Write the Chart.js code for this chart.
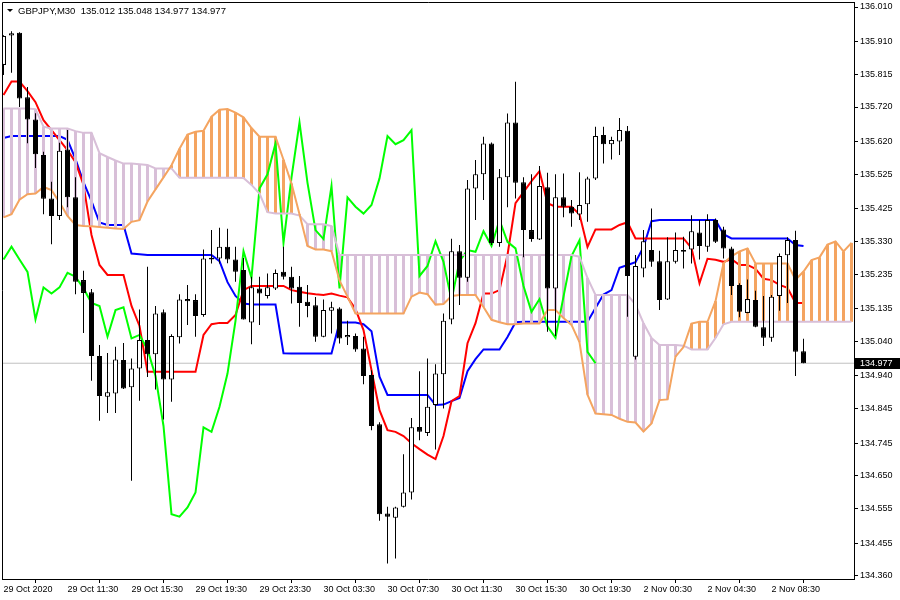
<!DOCTYPE html>
<html>
<head>
<meta charset="utf-8">
<script src="https://cdn.jsdelivr.net/npm/chart.js@4.4.0/dist/chart.umd.min.js"></script>
<style>
  html, body { margin: 0; padding: 0; background: #fff; }
  #wrap { width: 900px; height: 600px; }
</style>
</head>
<body>
<div id="wrap"><canvas id="chart" width="900" height="600"></canvas></div>
<script>
var symbol = "GBPJPY,M30";

// 30 min bars, 29 Oct 2020 07:30 .. 2 Nov 2020 10:30
var openP = [135.842,135.927,135.935,135.748,135.684,135.581,135.455,135.404,135.597,135.458,
  135.218,135.183,134.998,134.880,134.889,134.986,134.907,134.962,135.044,135.003,
  135.125,134.930,135.052,135.163,135.160,135.117,135.283,135.281,135.315,135.278,
  135.247,135.095,135.194,135.172,135.194,135.242,135.228,135.199,135.155,135.145,
  135.054,135.129,135.136,135.052,135.056,135.020,134.943,134.800,134.541,134.529,
  134.561,134.602,134.792,134.775,134.856,134.945,135.104,135.302,135.225,135.484,
  135.525,135.614,135.326,135.516,135.675,135.502,135.363,135.336,135.487,135.194,
  135.458,135.431,135.408,135.438,135.513,135.639,135.612,135.620,135.651,134.996,
  135.252,135.305,135.273,135.162,135.271,135.305,135.307,135.356,135.315,135.392,
  135.365,135.310,135.204,135.123,135.160,135.081,135.051,135.172,135.290,135.334,
  135.012];
var highP = [135.928,135.940,135.937,135.778,135.702,135.590,135.503,135.616,135.653,135.516,
  135.245,135.192,135.030,135.007,135.025,135.036,134.991,135.133,135.257,135.143,
  135.133,135.061,135.177,135.204,135.177,135.307,135.363,135.370,135.367,135.315,
  135.282,135.228,135.228,135.237,135.249,135.315,135.257,135.230,135.204,135.169,
  135.162,135.155,135.139,135.100,135.063,135.054,134.957,134.806,134.561,134.561,
  134.713,134.818,134.954,134.991,134.974,135.121,135.338,135.320,135.508,135.566,
  135.634,135.617,135.540,135.701,135.793,135.516,135.525,135.549,135.529,135.525,
  135.527,135.450,135.531,135.518,135.663,135.663,135.634,135.688,135.665,135.291,
  135.363,135.426,135.303,135.342,135.356,135.344,135.406,135.392,135.409,135.397,
  135.373,135.315,135.209,135.220,135.187,135.172,135.175,135.295,135.342,135.361,
  135.048];
var lowP = [135.813,135.819,135.720,135.615,135.543,135.409,135.322,135.392,135.429,135.177,
  135.065,134.926,134.810,134.833,134.833,134.902,134.636,134.868,134.937,134.901,
  134.814,134.865,135.034,135.088,135.054,135.112,135.266,135.266,135.267,135.213,
  135.104,135.032,135.088,135.165,135.189,135.220,135.150,135.083,135.110,135.039,
  135.052,135.063,135.034,135.030,135.010,134.916,134.783,134.520,134.396,134.411,
  134.559,134.582,134.754,134.766,134.727,134.846,135.090,135.146,135.213,135.392,
  135.450,135.320,135.315,135.429,135.455,135.284,135.329,135.334,135.068,135.056,
  135.400,135.373,135.392,135.387,135.508,135.556,135.568,135.581,135.112,134.988,
  135.226,135.257,135.131,135.160,135.266,135.252,135.266,135.278,135.300,135.326,
  135.281,135.175,135.110,135.122,135.081,135.027,135.039,135.129,135.152,134.940,
  134.977];
var closeP = [135.926,135.934,135.745,135.684,135.583,135.454,135.404,135.593,135.458,135.213,
  135.181,134.998,134.882,134.893,134.988,134.904,134.962,135.044,135.003,135.121,
  134.930,135.056,135.162,135.157,135.114,135.281,135.278,135.315,135.278,135.242,
  135.104,135.197,135.179,135.197,135.239,135.228,135.194,135.152,135.143,135.054,
  135.131,135.139,135.049,135.059,135.017,134.940,134.795,134.539,134.532,134.559,
  134.602,134.791,134.778,134.851,134.947,135.100,135.302,135.225,135.484,135.525,
  135.614,135.326,135.516,135.675,135.500,135.363,135.337,135.491,135.194,135.458,
  135.431,135.411,135.436,135.513,135.636,135.612,135.624,135.653,135.230,135.259,
  135.331,135.271,135.160,135.273,135.305,135.300,135.360,135.317,135.392,135.329,
  135.310,135.201,135.126,135.163,135.083,135.051,135.170,135.288,135.334,135.010,
  134.977];

// Ichimoku lines
var tenkan = [135.755,135.794,135.794,135.766,135.734,135.682,135.653,135.624,135.595,135.560,
  135.494,135.349,135.262,135.233,135.233,135.233,135.143,135.085,134.952,134.952,
  134.952,134.952,134.952,134.952,134.952,135.059,135.090,135.094,135.094,135.117,
  135.189,135.201,135.201,135.201,135.201,135.201,135.189,135.184,135.180,135.177,
  135.175,135.179,135.173,135.168,135.134,135.073,134.957,134.841,134.783,134.778,
  134.766,134.745,134.728,134.712,134.699,134.766,134.867,134.882,135.035,135.093,
  135.179,135.179,135.189,135.291,135.441,135.473,135.505,135.534,135.441,135.431,
  135.431,135.431,135.409,135.314,135.365,135.365,135.365,135.378,135.386,135.339,
  135.339,135.339,135.339,135.339,135.339,135.339,135.311,135.209,135.280,135.277,
  135.271,135.279,135.262,135.262,135.251,135.222,135.218,135.204,135.196,135.152,
  135.152];
var kijun = [135.630,135.636,135.636,135.636,135.636,135.636,135.636,135.636,135.625,135.569,
  135.502,135.447,135.385,135.378,135.378,135.378,135.295,135.293,135.291,135.291,
  135.291,135.291,135.291,135.291,135.291,135.291,135.291,135.273,135.212,135.172,
  135.150,135.147,135.147,135.147,135.147,135.006,135.005,135.005,135.005,135.005,
  135.005,135.005,135.095,135.095,135.095,135.090,135.070,134.938,134.885,134.885,
  134.885,134.885,134.885,134.885,134.856,134.857,134.867,134.876,134.954,134.989,
  135.017,135.017,135.017,135.053,135.096,135.097,135.097,135.097,135.097,135.097,
  135.097,135.097,135.097,135.097,135.137,135.176,135.189,135.254,135.262,135.270,
  135.314,135.389,135.392,135.392,135.392,135.392,135.392,135.392,135.392,135.392,
  135.351,135.339,135.339,135.339,135.339,135.339,135.339,135.339,135.339,135.320,
  135.317];
// senkou spans, already placed 26 bars ahead (index = bar slot on the chart)
var spanA = [135.400,135.409,135.451,135.467,135.469,135.488,135.479,135.444,135.404,135.378,
  135.375,135.374,135.372,135.370,135.368,135.366,135.387,135.392,135.446,135.481,
  135.516,135.551,135.599,135.640,135.648,135.651,135.692,135.712,135.714,135.704,
  135.690,135.659,135.634,135.634,135.634,135.567,135.498,135.409,135.317,135.307,
  135.307,135.302,135.217,135.170,135.121,135.121,135.121,135.121,135.121,135.121,
  135.121,135.170,135.182,135.177,135.147,135.149,135.172,135.175,135.175,135.175,
  135.140,135.103,135.096,135.090,135.090,135.092,135.092,135.092,135.131,135.131,
  135.108,135.088,135.038,134.886,134.831,134.829,134.827,134.816,134.807,134.805,
  134.779,134.802,134.870,134.872,134.996,135.024,135.092,135.097,135.097,135.157,
  135.267,135.287,135.301,135.310,135.266,135.266,135.266,135.266,135.266,135.219,
  135.243,135.276,135.284,135.321,135.330,135.301,135.326];
var spanB = [135.716,135.716,135.716,135.716,135.714,135.663,135.658,135.658,135.658,135.650,
  135.645,135.645,135.586,135.575,135.565,135.556,135.556,135.554,135.552,135.542,
  135.542,135.542,135.515,135.515,135.515,135.515,135.515,135.515,135.515,135.515,
  135.514,135.494,135.469,135.415,135.411,135.411,135.411,135.405,135.380,135.380,
  135.380,135.375,135.291,135.291,135.291,135.291,135.291,135.291,135.291,135.291,
  135.291,135.291,135.291,135.291,135.291,135.291,135.291,135.291,135.291,135.291,
  135.291,135.291,135.291,135.291,135.291,135.291,135.291,135.291,135.291,135.291,
  135.291,135.291,135.286,135.224,135.175,135.175,135.175,135.175,135.175,135.147,
  135.093,135.050,135.030,135.030,135.030,135.028,135.017,135.017,135.017,135.050,
  135.090,135.097,135.097,135.097,135.097,135.097,135.097,135.097,135.097,135.097,
  135.097,135.097,135.097,135.097,135.097,135.097,135.097];

var timeTicks = [0, 8, 16, 24, 32, 40, 48, 56, 64, 72, 80, 88, 96];
var timeLabels = ["29 Oct 2020", "29 Oct 11:30", "29 Oct 15:30", "29 Oct 19:30", "29 Oct 23:30",
  "30 Oct 03:30", "30 Oct 07:30", "30 Oct 11:30", "30 Oct 15:30", "30 Oct 19:30",
  "2 Nov 00:30", "2 Nov 04:30", "2 Nov 08:30"];
var priceTicks = [136.010, 135.910, 135.815, 135.720, 135.620, 135.525, 135.425, 135.330,
  135.235, 135.135, 135.040, 134.940, 134.845, 134.745, 134.650, 134.555, 134.455, 134.360];

var FONT = "Liberation Sans";
Chart.defaults.font.family = FONT;
Chart.defaults.font.size = 9;
Chart.defaults.color = "#000";

var last = closeP.length - 1;
var chikouShift = 26;

function linePoints(arr) {
    return arr.map(function (v, i) { return {x: i, y: v}; });
}

function noPad(s) {
    s.paddingTop = 0;
    s.paddingBottom = 0;
    s.paddingLeft = 0;
    s.paddingRight = 0;
}

var bodies = openP.map(function (o, i) { return {x: i, y: [o, closeP[i]]}; });
var bodyColors = openP.map(function (o, i) { return closeP[i] >= o ? "#ffffff" : "#000000"; });
var wicks = lowP.map(function (l, i) { return {x: i, y: [l, highP[i]]}; });
var cloud = spanA.map(function (a, i) {
    return {x: i, y: [Math.min(a, spanB[i]), Math.max(a, spanB[i])]};
});
var cloudColors = spanA.map(function (a, i) { return a >= spanB[i] ? "#f4a460" : "#d8bfd8"; });
var chikou = closeP.slice(chikouShift).map(function (c, i) { return {x: i, y: c}; });

// frame, title and bid label
var decor = {
    id: "decor",
    afterDraw: function (chart) {
        var c = chart.ctx;
        var a = chart.chartArea;
        c.save();
        c.strokeStyle = "#000";
        c.lineWidth = 1;
        c.beginPath();
        c.moveTo(a.left + 0.5, a.bottom);
        c.lineTo(a.left + 0.5, a.top + 0.5);
        c.lineTo(a.right + 1, a.top + 0.5);
        c.stroke();

        // small menu triangle + title
        c.fillStyle = "#000";
        c.beginPath();
        c.moveTo(7, 9);
        c.lineTo(13, 9);
        c.lineTo(10, 12);
        c.closePath();
        c.fill();
        c.font = "9.5px '" + FONT + "'";
        c.textBaseline = "middle";
        c.textAlign = "left";
        var title = symbol + "  " + openP[last].toFixed(3) + " " + highP[last].toFixed(3) + " " +
            lowP[last].toFixed(3) + " " + closeP[last].toFixed(3);
        c.fillText(title, 18, 11);

        // bid price box on the axis
        var y = Math.round(chart.scales.y.getPixelForValue(closeP[last]));
        c.font = "9px '" + FONT + "'";
        c.fillStyle = "#000";
        c.fillRect(a.right + 1, y - 5, 900 - a.right, 11);
        c.fillStyle = "#fff";
        c.fillText(closeP[last].toFixed(3), a.right + 6, y + 0.5);
        c.restore();
    }
};

var chart = new Chart(document.getElementById("chart"), {
    type: "bar",
    data: {
        datasets: [{
            type: "bar",
            data: bodies,
            backgroundColor: bodyColors,
            borderColor: "#000",
            borderWidth: 1,
            borderSkipped: false,
            barThickness: 5,
            minBarLength: 1,
            inflateAmount: 0,
            grouped: false,
            order: 0
        }, {
            type: "bar",
            data: wicks,
            backgroundColor: "#000",
            borderWidth: 0,
            barThickness: 1,
            inflateAmount: 0,
            grouped: false,
            order: 1
        }, {
            type: "line",
            data: linePoints(spanA),
            borderColor: "#f4a460",
            borderWidth: 2,
            pointRadius: 0,
            tension: 0,
            order: 2
        }, {
            type: "line",
            data: linePoints(spanB),
            borderColor: "#d8bfd8",
            borderWidth: 2,
            pointRadius: 0,
            tension: 0,
            order: 2
        }, {
            type: "line",
            data: chikou,
            borderColor: "#00ff00",
            borderWidth: 2,
            pointRadius: 0,
            tension: 0,
            order: 3
        }, {
            type: "bar",
            data: cloud,
            backgroundColor: cloudColors,
            borderWidth: 0,
            barThickness: 3,
            inflateAmount: 0,
            grouped: false,
            order: 4
        }, {
            type: "line",
            data: linePoints(tenkan),
            borderColor: "#ff0000",
            borderWidth: 2,
            pointRadius: 0,
            tension: 0,
            order: 5
        }, {
            type: "line",
            data: linePoints(kijun),
            borderColor: "#0000ff",
            borderWidth: 2,
            pointRadius: 0,
            tension: 0,
            order: 5
        }, {
            type: "line",
            data: [{x: -1, y: closeP[last]}, {x: 108, y: closeP[last]}],
            borderColor: "#c0c0c0",
            borderWidth: 1,
            pointRadius: 0,
            order: 6
        }]
    },
    options: {
        responsive: false,
        animation: false,
        devicePixelRatio: 1,
        events: [],
        layout: {padding: {left: 2, top: 2, right: 0, bottom: 0}},
        plugins: {legend: {display: false}, tooltip: {enabled: false}},
        scales: {
            x: {
                type: "linear",
                min: -0.1875,
                max: 106.3125,
                offset: false,
                afterBuildTicks: function (s) {
                    s.ticks = timeTicks.map(function (v) { return {value: v}; });
                },
                afterFit: function (s) { s.height = 21; noPad(s); },
                grid: {display: true, drawOnChartArea: false, drawTicks: true, tickLength: 4, color: "#000"},
                border: {display: true, color: "#000"},
                ticks: {
                    autoSkip: false,
                    maxRotation: 0,
                    align: "start",
                    padding: 1,
                    color: "#000",
                    callback: function (v, idx) { return timeLabels[idx]; }
                }
            },
            y: {
                type: "linear",
                position: "right",
                min: 134.3513,
                max: 136.0245,
                afterBuildTicks: function (s) {
                    s.ticks = priceTicks.map(function (v) { return {value: v}; });
                },
                afterFit: function (s) { s.width = 46; noPad(s); },
                grid: {display: true, drawOnChartArea: false, drawTicks: true, tickLength: 4, color: "#000"},
                border: {display: true, color: "#000"},
                ticks: {
                    padding: 2,
                    crossAlign: "near",
                    color: "#000",
                    callback: function (v) { return v.toFixed(3); }
                }
            }
        }
    },
    plugins: [decor]
});
</script>
</body>
</html>
